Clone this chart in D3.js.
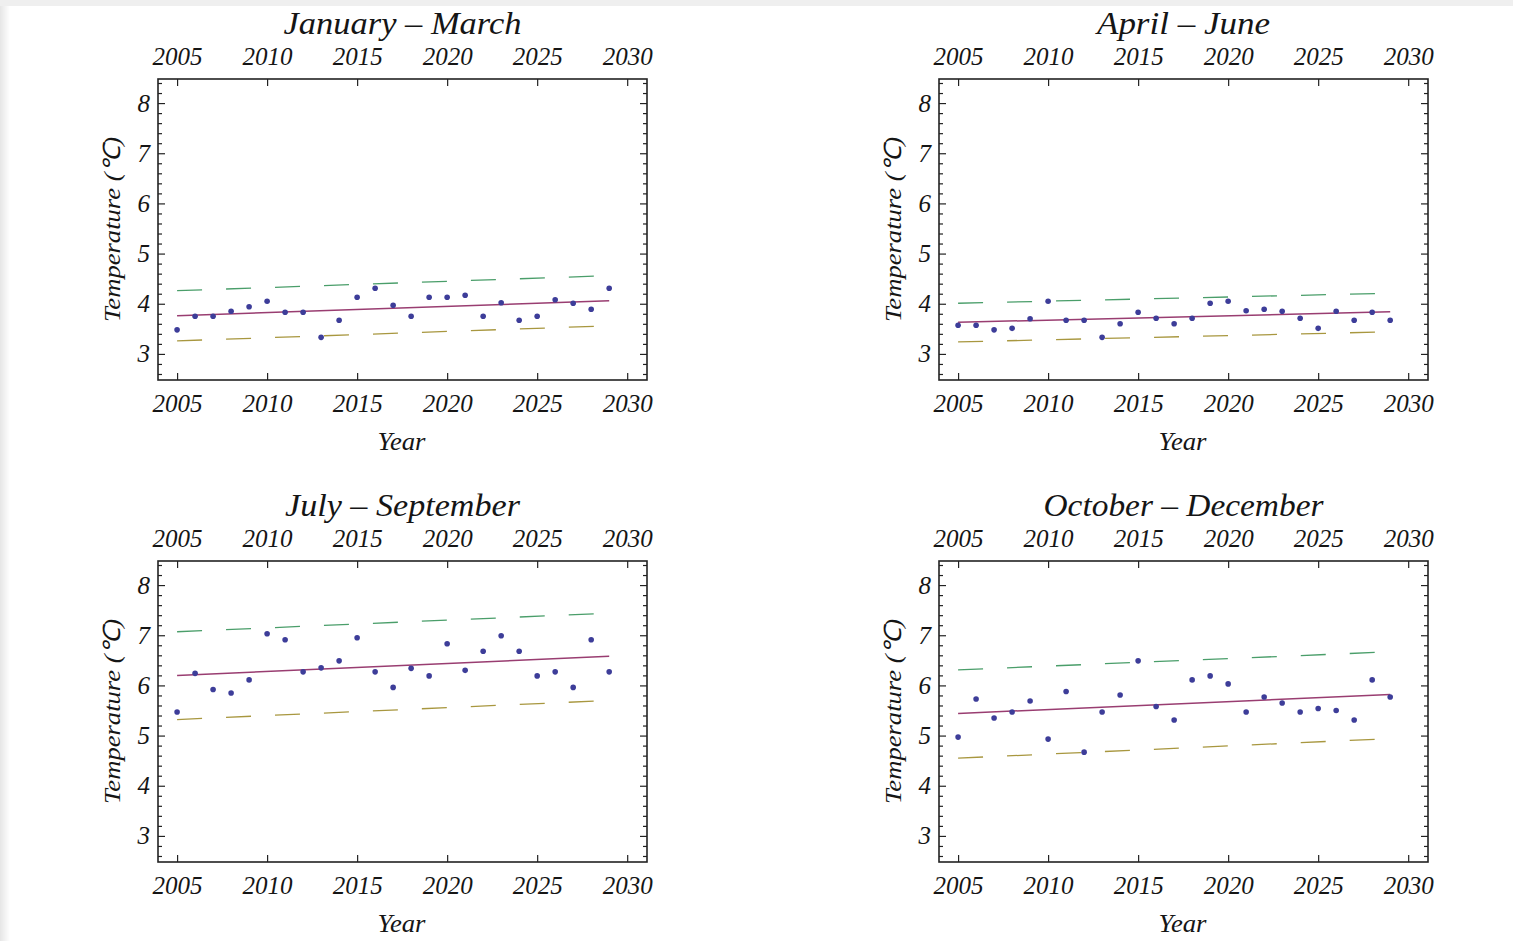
<!DOCTYPE html>
<html><head><meta charset="utf-8">
<script src="https://cdn.jsdelivr.net/npm/d3@7"></script>
<style>
html,body{margin:0;padding:0;background:#fff;}
svg{display:block;}
</style></head>
<body>
<svg id="chart" width="1513" height="941"></svg>
<script>
const years = d3.range(2005, 2030);
const lineYears = [2005, 2029];
const titles = ["January \u2013 March", "April \u2013 June", "July \u2013 September", "October \u2013 December"];
const xTicks = [2005, 2010, 2015, 2020, 2025, 2030];
const yTicks = [3, 4, 5, 6, 7, 8];

const ptsJM = [3.48,3.75,3.75,3.85,3.94,4.05,3.83,3.83,3.33,3.67,4.13,4.31,3.97,3.75,4.13,4.13,4.17,3.75,4.02,3.67,3.75,4.08,4.01,3.89,4.31];
const ptsAJ = [3.57,3.57,3.48,3.51,3.70,4.05,3.67,3.67,3.33,3.60,3.83,3.71,3.60,3.71,4.01,4.05,3.86,3.89,3.85,3.71,3.51,3.85,3.67,3.83,3.67];
const ptsJS = [5.47,6.24,5.92,5.85,6.11,7.03,6.91,6.27,6.35,6.49,6.95,6.27,5.96,6.34,6.19,6.83,6.30,6.68,6.99,6.68,6.19,6.27,5.96,6.91,6.27];
const ptsOD = [4.97,5.73,5.35,5.47,5.69,4.93,5.88,4.67,5.47,5.81,6.49,5.58,5.31,6.11,6.19,6.03,5.47,5.77,5.65,5.47,5.54,5.50,5.31,6.11,5.77];

const trendJM = [3.76, 4.06], upperJM = [4.26, 4.56], lowerJM = [3.26, 3.56];
const trendAJ = [3.63, 3.84], upperAJ = [4.01, 4.21], lowerAJ = [3.24, 3.44];
const trendJS = [6.20, 6.58], upperJS = [7.07, 7.44], lowerJS = [5.32, 5.70];
const trendOD = [5.44, 5.82], upperOD = [6.31, 6.67], lowerOD = [4.55, 4.94];

const panels = [
  {title: titles[0], pts: ptsJM, trend: trendJM, upper: upperJM, lower: lowerJM, tl: 238},
  {title: titles[1], pts: ptsAJ, trend: trendAJ, upper: upperAJ, lower: lowerAJ, tl: 173},
  {title: titles[2], pts: ptsJS, trend: trendJS, upper: upperJS, lower: lowerJS, tl: 235},
  {title: titles[3], pts: ptsOD, trend: trendOD, upper: upperOD, lower: lowerOD, tl: 280}
];

const colPts = "#3d3d99", colTrend = "#993d71", colLower = "#a8973f", colUpper = "#4a9e6a";
const font = "'Liberation Serif', 'Times New Roman', serif";
const ink = "#151515";

const svg = d3.select("#chart");
const defs = svg.append("defs");
const grad = defs.append("linearGradient").attr("id","lshadow").attr("x1","0").attr("x2","1");
grad.append("stop").attr("offset","0").attr("stop-color","#e6e6e6");
grad.append("stop").attr("offset","1").attr("stop-color","#ffffff");
svg.append("rect").attr("x",0).attr("y",0).attr("width",10).attr("height",941).attr("fill","url(#lshadow)");
svg.append("rect").attr("x",0).attr("y",0).attr("width",1513).attr("height",6).attr("fill","#efefef");

const W = 489, H = 301;
const origins = [[158,79],[939,79],[158,561],[939,561]];

panels.forEach((p, i) => {
  const [ox, oy] = origins[i];
  const g = svg.append("g").attr("transform", `translate(${ox},${oy})`);
  const x = d3.scaleLinear().domain([2003.94, 2031.1]).range([0, W]);
  const y = d3.scaleLinear().domain([2.48, 8.48]).range([H, 0]);

  const minorY = d3.range(2.6, 8.5, 0.2).filter(v => Math.abs(v - Math.round(v)) > 0.01);

  g.append("g").attr("transform", `translate(0,${H})`)
    .call(d3.axisBottom(x).tickValues(xTicks).tickFormat(d3.format("d")).tickSizeInner(-7).tickSizeOuter(0).tickPadding(14));
  g.append("g")
    .call(d3.axisTop(x).tickValues(xTicks).tickFormat(d3.format("d")).tickSizeInner(-7).tickSizeOuter(0).tickPadding(14));
  g.append("g")
    .call(d3.axisLeft(y).tickValues(yTicks).tickFormat(d3.format("d")).tickSizeInner(-7).tickSizeOuter(0).tickPadding(8));
  g.append("g").attr("transform", `translate(${W},0)`)
    .call(d3.axisRight(y).tickValues(yTicks).tickFormat("").tickSizeInner(-7).tickSizeOuter(0));
  g.append("g").call(d3.axisLeft(y).tickValues(minorY).tickFormat("").tickSizeInner(-4).tickSizeOuter(0));
  g.append("g").attr("transform", `translate(${W},0)`).call(d3.axisRight(y).tickValues(minorY).tickFormat("").tickSizeInner(-4).tickSizeOuter(0));

  g.selectAll(".domain").remove();
  g.selectAll(".tick line").attr("stroke", "#222").attr("stroke-width", 1.2);
  g.selectAll(".tick text").attr("font-family", font).attr("font-style", "italic").attr("font-size", 25).attr("fill", ink);

  g.append("rect").attr("x",0).attr("y",0).attr("width",W).attr("height",H)
    .attr("fill","none").attr("stroke","#222").attr("stroke-width",1.6);

  const line = d3.line().x((d, k) => x(lineYears[k])).y(d => y(d));
  g.append("path").attr("d", line(p.upper)).attr("fill","none").attr("stroke",colUpper).attr("stroke-width",1.3).attr("stroke-dasharray","25,24");
  g.append("path").attr("d", line(p.lower)).attr("fill","none").attr("stroke",colLower).attr("stroke-width",1.3).attr("stroke-dasharray","25,24");
  g.append("path").attr("d", line(p.trend)).attr("fill","none").attr("stroke",colTrend).attr("stroke-width",1.5);

  g.selectAll("circle.pt").data(p.pts).enter().append("circle")
    .attr("class","pt").attr("cx",(d,k)=>x(years[k])).attr("cy",d=>y(d)).attr("r",2.8).attr("fill",colPts);

  g.append("text").attr("x", W/2).attr("y", -45).attr("text-anchor","middle")
    .attr("textLength", p.tl).attr("lengthAdjust","spacingAndGlyphs")
    .attr("font-family", font).attr("font-style","italic").attr("font-size", 31).attr("fill",ink).text(p.title);
  g.append("text").attr("x", W/2 - 1).attr("y", H + 70).attr("text-anchor","middle")
    .attr("textLength", 48).attr("lengthAdjust","spacingAndGlyphs")
    .attr("font-family", font).attr("font-style","italic").attr("font-size", 25).attr("fill",ink).text("Year");
  g.append("text").attr("transform", `translate(-38,${H/2})rotate(-90)`).attr("text-anchor","middle")
    .attr("textLength", 185).attr("lengthAdjust","spacingAndGlyphs")
    .attr("font-family", font).attr("font-style","italic").attr("font-size", 24).attr("fill",ink).text("Temperature (\u2103)");
});
</script>
</body></html>
